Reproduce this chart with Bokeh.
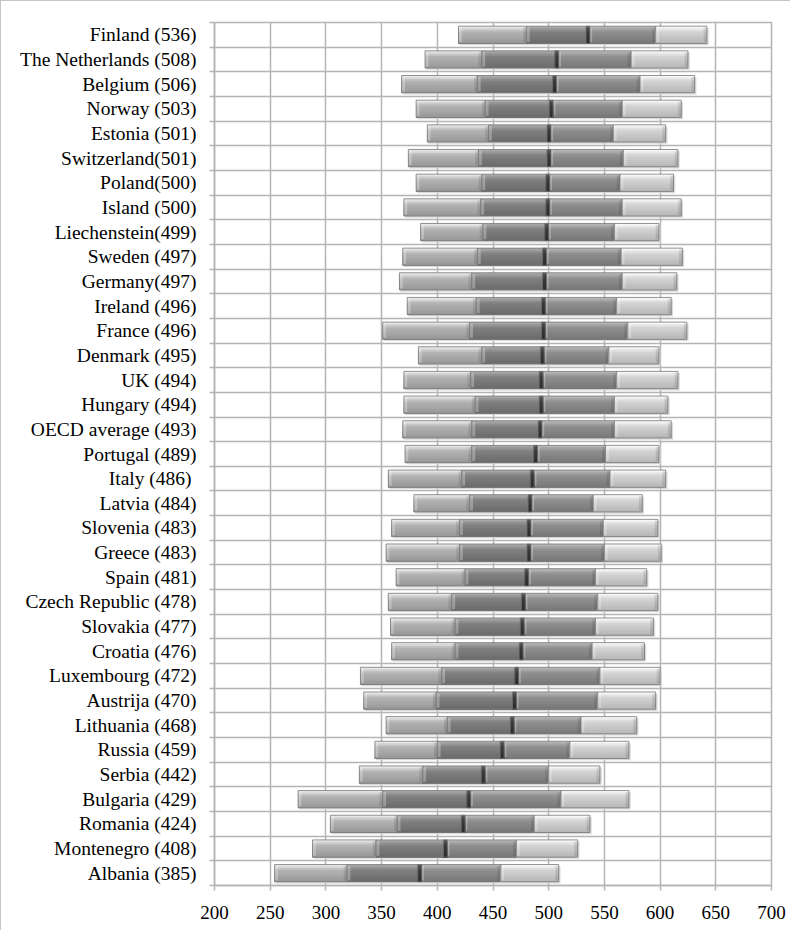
from bokeh.plotting import figure
from bokeh.models import ColumnDataSource, FixedTicker, Range1d
from bokeh.transform import dodge
from bokeh.embed import file_html
from bokeh.resources import INLINE

labels = ["Finland (536)", "The Netherlands (508)", "Belgium (506)", "Norway (503)",
          "Estonia (501)", "Switzerland(501)", "Poland(500)", "Island (500)",
          "Liechenstein(499)", "Sweden (497)", "Germany(497)", "Ireland (496)",
          "France (496)", "Denmark (495)", "UK (494)", "Hungary (494)",
          "OECD average (493)", "Portugal (489)", "Italy  (486)", "Latvia (484)",
          "Slovenia (483)", "Greece (483)", "Spain (481)", "Czech Republic (478)",
          "Slovakia (477)", "Croatia (476)", "Luxembourg (472)", "Austrija (470)",
          "Lithuania (468)", "Russia (459)", "Serbia (442)", "Bulgaria (429)",
          "Romania (424)", "Montenegro (408)", "Albania (385)"]
p10 = [419, 389, 368, 381, 391, 374, 381, 370, 385, 369, 366, 373, 351, 383, 370, 370, 369, 371,
       356, 379, 359, 354, 363, 356, 358, 359, 331, 334, 354, 344, 330, 275, 304, 288, 254]
p25 = [480, 440, 436, 443, 446, 437, 440, 439, 441, 436, 431, 435, 429, 440, 430, 434, 431, 431,
       422, 429, 420, 420, 425, 413, 416, 416, 404, 399, 409, 400, 387, 351, 364, 345, 319]
mean = [536, 508, 506, 503, 501, 501, 500, 500, 499, 497, 497, 496, 496, 495, 494, 494, 493, 489,
        486, 484, 483, 483, 481, 478, 477, 476, 472, 470, 468, 459, 442, 429, 424, 408, 385]
p75 = [596, 574, 582, 566, 558, 567, 564, 566, 559, 565, 566, 561, 571, 554, 561, 559, 559, 551,
       555, 540, 549, 550, 542, 544, 542, 539, 546, 544, 529, 519, 500, 511, 487, 471, 457]
p90 = [642, 625, 631, 619, 605, 616, 612, 619, 599, 620, 615, 610, 624, 599, 616, 607, 610, 599,
       605, 584, 598, 601, 588, 598, 594, 586, 600, 596, 579, 572, 546, 572, 537, 526, 509]
xticks = [200, 250, 300, 350, 400, 450, 500, 550, 600, 650, 700]

n = len(labels)
ypos = [n - 1 - i for i in range(n)]
src = ColumnDataSource(dict(y=ypos, p10=p10, p25=p25, mean=mean, p75=p75, p90=p90))

FONT = "Liberation Serif"
GRID = "#b4b4b4"

p = figure(width=790, height=930, x_range=Range1d(200, 700), y_range=Range1d(-0.5, n - 0.5),
           output_backend="svg", toolbar_location=None,
           min_border_left=213, min_border_right=20, min_border_top=21, min_border_bottom=46)
p.styles = {"border-top": "1px solid #c4c4c4", "border-left": "1px solid #c4c4c4"}
p.background_fill_color = "white"
p.border_fill_color = "white"
p.outline_line_color = GRID
p.outline_line_width = 1.5

# axes
p.xaxis.ticker = FixedTicker(ticks=xticks)
p.xaxis.major_label_text_font = FONT
p.xaxis.major_label_text_font_size = "19px"
p.xaxis.major_label_text_color = "black"
p.xaxis.axis_line_color = GRID
p.xaxis.axis_line_width = 1.5
p.xaxis.major_tick_line_color = GRID
p.xaxis.major_tick_line_width = 1.5
p.xaxis.major_tick_out = 5
p.xaxis.major_tick_in = 0
p.xaxis.minor_tick_line_color = None
p.xaxis.major_label_standoff = 15

bounds = [k + 0.5 for k in range(-1, n)]
p.yaxis.ticker = FixedTicker(ticks=ypos, minor_ticks=bounds)
p.yaxis.major_label_overrides = {y: lbl for y, lbl in zip(ypos, labels)}
p.yaxis.major_label_text_font = FONT
p.yaxis.major_label_text_font_size = "19.5px"
p.yaxis.major_label_text_color = "black"
p.yaxis.axis_line_color = GRID
p.yaxis.axis_line_width = 1.5
p.yaxis.major_tick_line_color = None
p.yaxis.major_tick_out = 0
p.yaxis.major_tick_in = 0
p.yaxis.minor_tick_line_color = GRID
p.yaxis.minor_tick_line_width = 1.5
p.yaxis.minor_tick_out = 5
p.yaxis.minor_tick_in = 0
p.yaxis.major_label_standoff = 13

p.xgrid.ticker = FixedTicker(ticks=xticks)
p.ygrid.ticker = FixedTicker(ticks=bounds)
p.xgrid.grid_line_color = GRID
p.ygrid.grid_line_color = GRID
p.xgrid.grid_line_width = 1.5
p.ygrid.grid_line_width = 1.5


def hx(c):
    return [int(c[i:i + 2], 16) for i in (1, 3, 5)]


def mix(a, b, t):
    A, B = hx(a), hx(b)
    return "#" + "".join("%02x" % round(A[i] + (B[i] - A[i]) * t) for i in range(3))


H = 0.70
K = 10

# drop shadow
p.hbar(y=dodge("y", -0.07), height=H, left=dodge("p10", 1.0), right=dodge("p90", 1.6),
       fill_color="#d2d2d2", fill_alpha=0.85, line_color=None, source=src)


def segment(left, right, top, mid, bot, bevel=True):
    # painter's gradient: each layer runs from its top edge down to the bar bottom
    for j in range(K):
        t = j / (K - 1)
        if t < 0.3:
            c = mix(top, mid, t / 0.3)
        else:
            c = mix(mid, bot, (t - 0.3) / 0.7)
        top_edge = H / 2 - j * H / K
        bottom_edge = -H / 2
        off = (top_edge + bottom_edge) / 2
        p.hbar(y=dodge("y", off), height=top_edge - bottom_edge, left=left, right=right,
               fill_color=c, line_color=None, source=src)
    if bevel:
        p.hbar(y="y", height=H * 0.84, left=left, right=dodge(left, 3.0),
               fill_color="white", fill_alpha=0.28, line_color=None, source=src)
        p.hbar(y="y", height=H * 0.84, left=dodge(right, -3.0), right=right,
               fill_color="black", fill_alpha=0.10, line_color=None, source=src)
    p.hbar(y="y", height=H, left=left, right=right, fill_color=None,
           line_color="#777777", line_width=0.8, source=src)


segment("p10", "p25", "#e8e8e8", "#b4b4b4", "#999999")
segment("p25", "mean", "#a8a8a8", "#818181", "#6c6c6c")
segment("mean", "p75", "#b6b6b6", "#8f8f8f", "#797979")
segment("p75", "p90", "#f8f8f8", "#d4d4d4", "#b8b8b8")
segment(dodge("mean", -2.5), dodge("mean", 1.0), "#555555", "#3a3a3a", "#2c2c2c", bevel=False)

open("out.html", "w").write(file_html(p, INLINE))
